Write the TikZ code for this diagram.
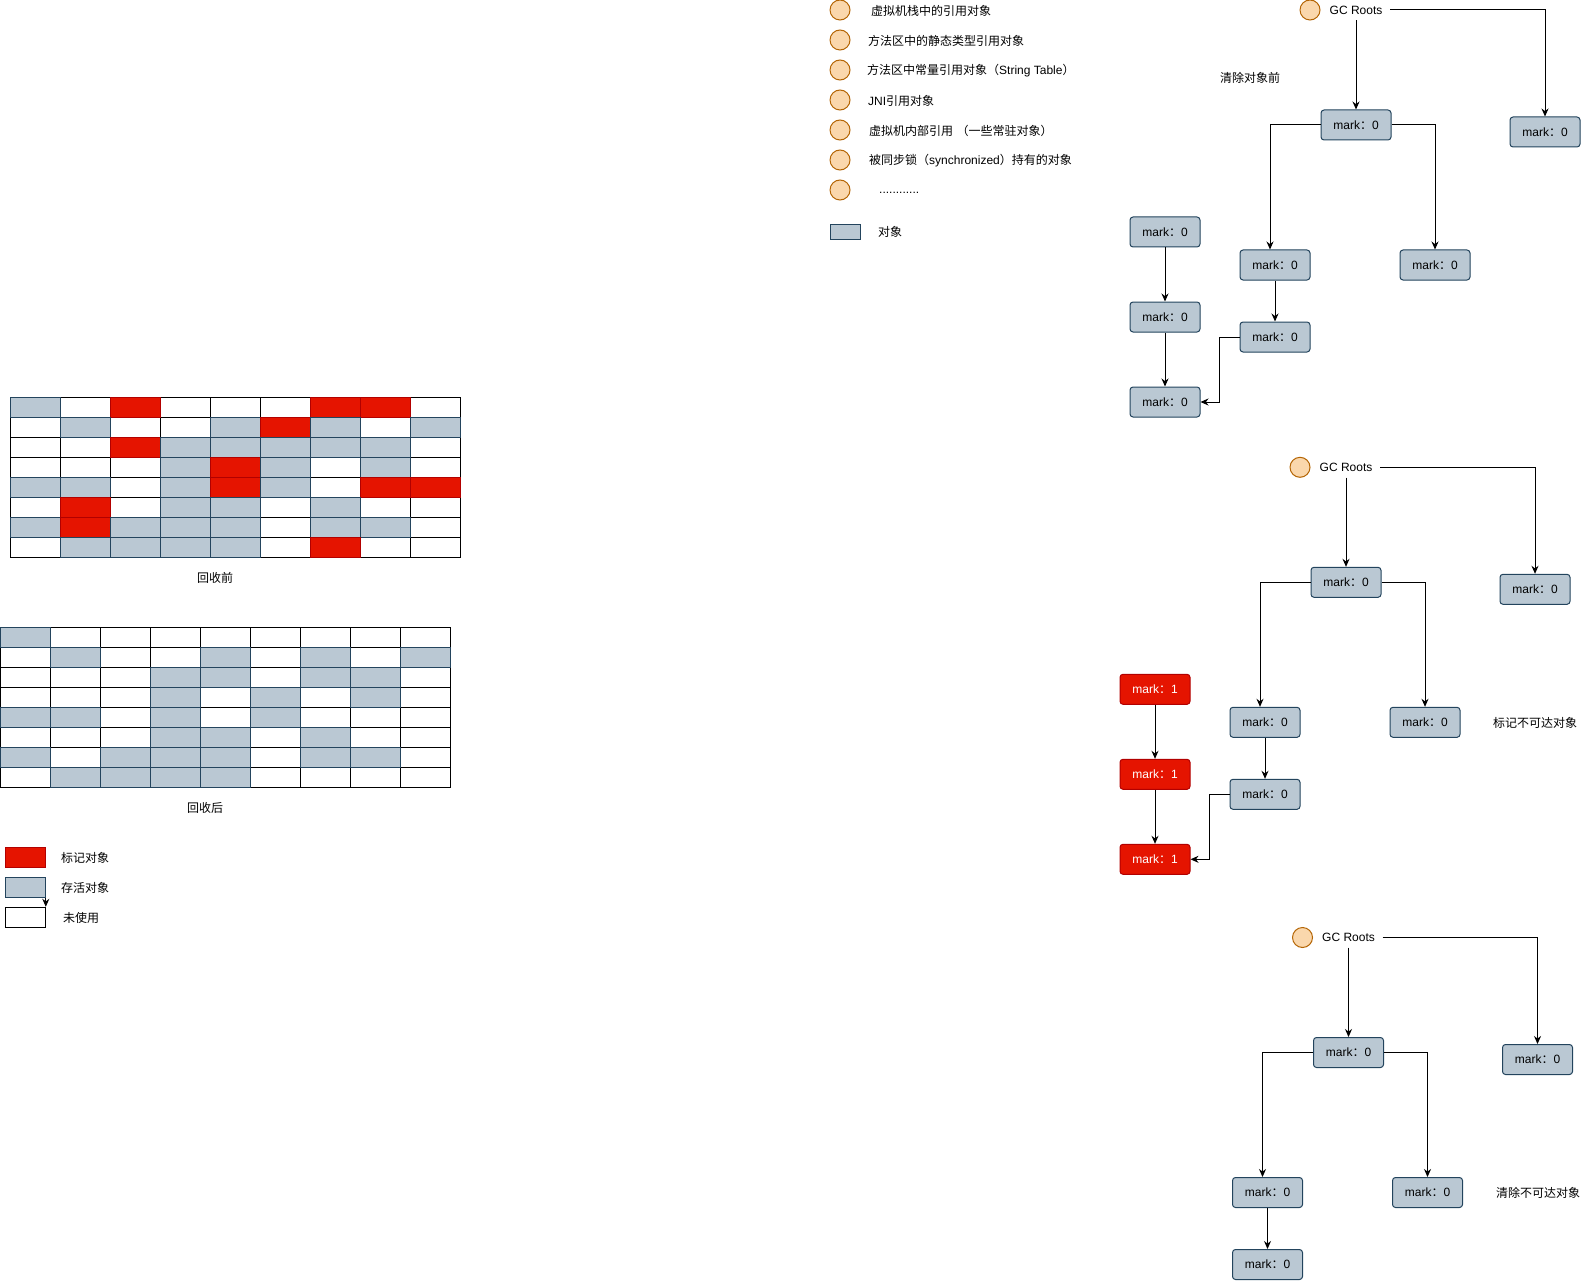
\documentclass[tikz,border=0pt]{standalone}
\usepackage{fontspec}
\setmainfont{Liberation Sans}
\newfontfamily\cjk{Noto Sans CJK SC}
\usepackage{tikz}
\usetikzlibrary{arrows.meta}

\definecolor{objfill}{HTML}{BAC8D3}
\definecolor{objline}{HTML}{23445D}
\definecolor{markfill}{HTML}{E51400}
\definecolor{markline}{HTML}{B20000}
\definecolor{rootfill}{HTML}{FAD7AC}
\definecolor{rootline}{HTML}{B46504}

\newcommand{\zh}[1]{{\cjk #1}}
% heap before / after the sweep: g = live, r = marked, w = free
\newcommand{\heapbefore}{{g,w,r,w,w,w,r,r,w},{w,g,w,w,g,r,g,w,g},{w,w,r,g,g,g,g,g,w},{w,w,w,g,r,g,w,g,w},{g,g,w,g,r,g,w,r,r},{w,r,w,g,g,w,g,w,w},{g,r,g,g,g,w,g,g,w},{w,g,g,g,g,w,r,w,w}}
\newcommand{\heapafter}{{g,w,w,w,w,w,w,w,w},{w,g,w,w,g,w,g,w,g},{w,w,w,g,g,w,g,g,w},{w,w,w,g,w,g,w,g,w},{g,g,w,g,w,g,w,w,w},{w,w,w,g,g,w,g,w,w},{g,w,g,g,g,w,g,g,w},{w,g,g,g,g,w,w,w,w}}

\begin{document}
\begin{tikzpicture}[x=1pt,y=-1pt,font=\fontsize{12}{14}\selectfont]
  \tikzstyle{obj}=[draw=objline,fill=objfill,rounded corners=3pt,line width=1pt,minimum width=70pt,minimum height=30pt,inner sep=0pt]
  \tikzstyle{marked}=[obj,draw=markline,fill=markfill,text=white]
  \tikzstyle{root}=[circle,draw=rootline,fill=rootfill,line width=1pt,minimum size=20pt,inner sep=0pt]
  \tikzstyle{directed}=[-{Stealth[length=8pt,width=7pt]},line width=1pt]
  \tikzstyle{swatch}=[line width=1pt,minimum width=40pt,minimum height=20pt,inner sep=0pt]
  \tikzstyle{note}=[inner sep=0pt]
  \tikzstyle{cellg}=[draw=objline,fill=objfill,line width=1pt]
  \tikzstyle{cellr}=[draw=markline,fill=markfill,line width=1pt]
  \tikzstyle{cellw}=[]
  \useasboundingbox (0,0) rectangle (1589,1281);

  % root set legend
  \foreach \i/\y in {1/10,2/40,3/70,4/100,5/130,6/160,7/190} {
    \node[root] (src\i) at (840,\y) {};
  }
  \node[note,anchor=west] (txt1) at (871,11) {\zh{虚拟机栈中的引用对象}};
  \node[note,anchor=west] (txt2) at (868,41) {\zh{方法区中的静态类型引用对象}};
  \node[note,anchor=west] (txt3) at (867,71) {\zh{方法区中常量引用对象（}String Table\zh{）}};
  \node[note,anchor=west] (txt4) at (868,101) {JNI\zh{引用对象}};
  \node[note,anchor=west] (txt5) at (869,131) {\zh{虚拟机内部引用} \zh{（一些常驻对象）}};
  \node[note,anchor=west] (txt6) at (869,161) {\zh{被同步锁（}synchronized\zh{）持有的对象}};
  \node[note,anchor=west] (txt7) at (879,193) {............};
  \node[draw=objline,fill=objfill,line width=1pt,minimum width=30pt,minimum height=15pt,inner sep=0pt] (lobj) at (845.5,232.5) {};
  \node[note,anchor=west] (tobj) at (878,232) {\zh{对象}};

  % heap grids
  \foreach \row [count=\r from 0] in \heapbefore
    \foreach \c [count=\k from 0] in \row
      \draw[fill=white,line width=1pt] ({10+50*\k},{397+20*\r}) rectangle ++(50,20);
  \foreach \row [count=\r from 0] in \heapbefore
    \foreach \c [count=\k from 0] in \row
      \path[cell\c] ({10+50*\k},{397+20*\r}) rectangle ++(50,20);
  \node (before) at (215,578) {\zh{回收前}};

  \foreach \row [count=\r from 0] in \heapafter
    \foreach \c [count=\k from 0] in \row
      \draw[fill=white,line width=1pt] ({0+50*\k},{627+20*\r}) rectangle ++(50,20);
  \foreach \row [count=\r from 0] in \heapafter
    \foreach \c [count=\k from 0] in \row
      \path[cell\c] ({0+50*\k},{627+20*\r}) rectangle ++(50,20);
  \node (after) at (205,808) {\zh{回收后}};

  % heap legend
  \node[swatch,draw=markline,fill=markfill] (lmark) at (25.3,857.3) {};
  \node[swatch,draw=objline,fill=objfill] (llive) at (25.3,887.3) {};
  \node[swatch,draw=black,fill=white] (lfree) at (25.3,917.3) {};
  \node (tmark) at (85,858.3) {\zh{标记对象}};
  \node (tlive) at (85,888.3) {\zh{存活对象}};
  \node (tfree) at (81,918.3) {\zh{未使用}};
  \draw[directed] (llive.south east) -- (lfree.north east);

  % the three object graphs
  \foreach \t/\dx/\dy in {1/0/0,2/-10/457.3,3/-7.5/927.5} {
    \begin{scope}[shift={(\dx,\dy)}]
      \node[root] (root\t) at (1310,10) {};
      \node[minimum width=68pt,minimum height=20pt,inner sep=0pt] (gc\t) at (1356,10) {GC Roots};
      \node[obj] (a\t) at (1356,125) {mark\zh{：}0};
      \node[obj] (r\t) at (1545,132) {mark\zh{：}0};
      \node[obj] (b\t) at (1275,265) {mark\zh{：}0};
      \node[obj] (c\t) at (1435,265) {mark\zh{：}0};
      \node[obj] (d\t) at (1275,337) {mark\zh{：}0};
      \draw[directed] (gc\t.east) -| (r\t.north);
      \draw[directed] (gc\t) -- (a\t);
      \draw[directed] (a\t.west) -| ([xshift=-5pt]b\t.north);
      \draw[directed] (a\t.east) -| (c\t.north);
      \draw[directed] (b\t) -- (d\t);
    \end{scope}
  }
  \foreach \t/\dx/\dy/\s/\v in {1/0/0/obj/0,2/-10/457.3/marked/1} {
    \begin{scope}[shift={(\dx,\dy)}]
      \node[\s] (e\t) at (1165,232) {mark\zh{：}\v};
      \node[\s] (f\t) at (1165,317) {mark\zh{：}\v};
      \node[\s] (g\t) at (1165,402) {mark\zh{：}\v};
      \draw[directed] (e\t) -- (f\t);
      \draw[directed] (f\t) -- (g\t);
      \draw[directed] (d\t.west) -- ++(-20,0) |- (g\t.east);
    \end{scope}
  }
  \node (lbl1) at (1250,78) {\zh{清除对象前}};
  \node (lbl2) at (1535,722.7) {\zh{标记不可达对象}};
  \node (lbl3) at (1538,1192.7) {\zh{清除不可达对象}};
\end{tikzpicture}
\end{document}
